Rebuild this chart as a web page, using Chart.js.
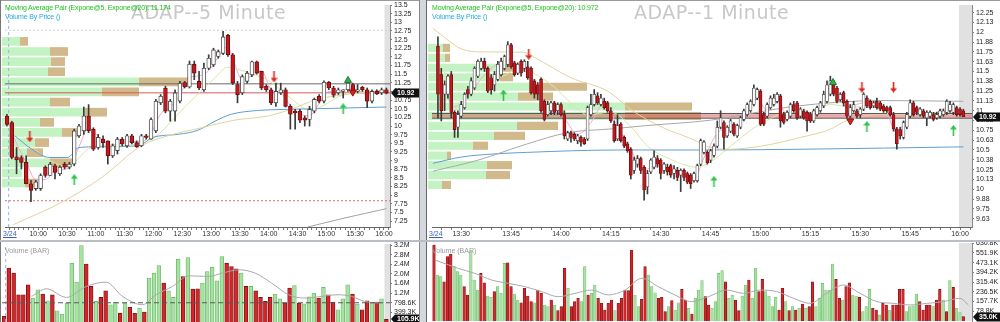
<!DOCTYPE html>
<html><head><meta charset="utf-8">
<script src="https://cdn.jsdelivr.net/npm/chart.js@4.4.1/dist/chart.umd.min.js"></script>
<style>
html,body{margin:0;padding:0;background:#fff;width:1000px;height:322px;overflow:hidden;font-family:"Liberation Sans",Arial,sans-serif}
#root{position:relative;width:1000px;height:322px;background:#fff}
canvas,.t,.d{position:absolute}
.t{white-space:nowrap;z-index:10;line-height:1}
.title{font-family:"DejaVu Sans",sans-serif;font-size:19px;color:#c8c8c8;letter-spacing:0.5px}
.leg1{font-size:7px;color:#22c322;letter-spacing:-0.15px}
.leg2{font-size:7px;color:#27a9e0;letter-spacing:-0.15px}
.vlab{font-size:7px;color:#999}
.date{font-size:7px;color:#3a5fc0;text-decoration:underline}
</style></head>
<body><div id="root">
<div class="d" style="left:0;top:0;width:1000px;height:1px;background:#9a9a9a;z-index:9"></div>
<div class="d" style="left:0;top:0;width:1px;height:322px;background:#777;z-index:9"></div>
<div class="d" style="left:419px;top:0;width:8px;height:322px;background:#d3d7de;z-index:9"></div>
<div class="d" style="left:419px;top:0;width:1px;height:322px;background:#888;z-index:9"></div>
<div class="d" style="left:426px;top:0;width:1px;height:322px;background:#666;z-index:9"></div>
<div class="d" style="left:0;top:240px;width:1000px;height:2px;background:#b9bdc5;z-index:9"></div>

<canvas id="lvbp" width="419" height="240" style="left:0;top:0;z-index:1"></canvas>
<canvas id="lprice" width="419" height="240" style="left:0;top:0;z-index:2"></canvas>
<canvas id="lvol" width="419" height="80" style="left:0;top:242px;z-index:2"></canvas>
<canvas id="rvbp" width="573" height="240" style="left:427px;top:0;z-index:1"></canvas>
<canvas id="rprice" width="573" height="240" style="left:427px;top:0;z-index:2"></canvas>
<canvas id="rvol" width="573" height="80" style="left:427px;top:242px;z-index:2"></canvas>

<div class="t title" style="left:131px;top:3px">ADAP--5 Minute</div>
<div class="t leg1" style="left:5px;top:4px">Moving Average Pair (Expone@5, Expone@20): 11.174</div>
<div class="t leg2" style="left:5px;top:13px">Volume By Price ()</div>
<div class="t date" style="left:3px;top:230px">3/24</div>
<div class="t vlab" style="left:5px;top:247px">Volume (BAR)</div>

<div class="t title" style="left:634px;top:3px">ADAP--1 Minute</div>
<div class="t leg1" style="left:432px;top:4px">Moving Average Pair (Expone@5, Expone@20): 10.972</div>
<div class="t leg2" style="left:432px;top:13px">Volume By Price ()</div>
<div class="t date" style="left:429px;top:230px">3/24</div>
<div class="t vlab" style="left:432px;top:247px">Volume (BAR)</div>
</div>
<script>
// ================= DATA: 5-minute panel (left) =================
const L_OPEN = [10.29,10.10,9.11,9.09,8.95,8.33,8.19,8.19,8.81,8.57, 8.85,8.62,8.90,8.81,8.90,9.72,9.86,10.29,9.91,9.38, 9.62,9.57,9.14,9.29,9.62,9.43,9.72,9.52,9.43,9.72, 9.62,9.86,10.67,11.10,10.43,10.43,10.72,11.26,11.13,11.79, 11.29,11.05,11.67,11.77,12.01,12.10,12.63,12.06,11.20,10.96, 11.29,11.48,11.86,11.58,11.15,11.05,10.67,10.96,11.05,10.57, 10.43,10.43,10.24,10.19,10.43,10.86,10.72,11.27,11.10,10.96, 11.00,11.05,11.20,11.00,11.12,11.05,10.72,11.00,10.96,11.05];
const L_HIGH = [10.34,10.14,9.38,9.14,9.14,8.43,8.43,8.62,8.85,8.95, 8.90,8.85,8.95,8.95,9.91,10.05,10.55,10.62,9.95,9.76, 9.72,9.57,9.48,9.67,9.67,9.76,9.76,9.57,9.76,9.76, 10.24,10.77,10.91,11.15,10.77,11.05,11.29,11.29,11.88,11.88, 11.58,11.82,12.06,12.25,12.20,12.74,12.65,12.10,11.29,11.48, 11.58,11.88,11.88,11.58,11.20,11.10,11.24,11.24,11.10,10.62, 10.48,10.48,10.29,10.57,10.81,10.91,11.31,11.29,11.15,11.10, 11.05,11.34,11.24,11.20,11.15,11.10,11.05,11.05,11.10,11.10];
const L_LOW = [10.00,9.05,8.62,8.76,8.33,7.81,8.14,8.14,8.52,8.57, 8.47,8.57,8.76,8.76,8.85,9.67,9.76,9.81,9.29,9.33, 9.38,8.90,9.09,9.19,9.43,9.38,9.48,9.38,9.40,9.62, 9.62,9.81,10.62,10.38,10.14,10.14,10.67,11.10,11.10,11.34, 11.05,11.00,11.63,11.72,11.96,12.06,12.01,11.20,10.67,10.91, 11.24,11.43,11.50,11.05,11.00,10.62,10.57,10.91,10.55,9.91, 9.91,10.10,10.00,10.00,10.38,10.67,10.67,11.05,10.83,10.91, 10.81,11.00,10.93,10.96,11.00,10.53,10.67,10.91,10.91,10.93];
const L_CLOSE = [10.05,9.09,9.02,8.95,8.33,8.14,8.38,8.57,8.57,8.90, 8.66,8.81,8.81,8.90,9.86,10.00,10.29,9.86,9.33,9.67, 9.52,9.14,9.43,9.62,9.48,9.72,9.52,9.40,9.72,9.67, 10.19,10.72,10.86,10.43,10.72,10.96,11.24,11.13,11.79,11.53, 11.10,11.67,11.96,12.20,12.15,12.58,12.06,11.24,10.91,11.43, 11.53,11.86,11.53,11.10,11.05,10.67,11.00,11.05,10.57,10.34, 10.38,10.17,10.17,10.48,10.77,10.72,11.27,11.10,10.89,11.05, 11.05,11.24,10.96,11.05,11.05,10.72,11.00,10.93,11.05,10.95];
const L_VOL = [233,2234,2027,1130,1130,1544,992,1337,1158,882, 1130,468,330,785,2441,1654,3172,2400,1475,854, 1020,1296,716,826,371,785,606,357,578,412, 1820,2027,2344,1613,1296,1020,2607,1889,2676,1365, 1378,1613,2096,2275,1710,2717,2441,2303,2206,2027, 1475,1475,1296,1020,854,1020,1158,964,785,1406, 1516,785,757,1047,1199,992,1434,1130,826,509, 964,1544,1158,744,509,882,785,826,964,105.9];
const L_VOL_DIR = "rrrrrrggrg"+"rggggggrrg"+"rrggrgrrgr"+"gggrgggrgr"+"rgggggrrrg"+"rgrrrrggrr"+"grgggrgrrg"+"ggrgrrgrgr";
const L_VOL_MA = [[5.7,1061],[8.8,1378],[12.9,1020],[17,1475],[21.1,1654],[24.5,1061],[28.6,716],[31.4,1130],[34.8,1475],[38.2,1917],[42.3,1889],[45.1,2027],[48.5,2165],[51.9,2027],[55.3,1613],[58.8,1130],[62.2,992],[65.6,1061],[69,1130],[71.8,1061],[74.5,854],[77.9,785]];
const L_EMA5 = [[0,10.2],[2,9.5],[4,8.95],[6,8.45],[8,8.45],[10,8.7],[13,8.8],[15,9.4],[17,9.95],[19,9.7],[22,9.45],[25,9.55],[28,9.55],[30,9.8],[32,10.35],[34,10.55],[36,10.9],[38,11.4],[40,11.45],[42,11.6],[44,12.0],[46,12.3],[47,11.95],[49,11.35],[51,11.45],[53,11.6],[55,11.05],[57,10.95],[59,10.6],[61,10.35],[63,10.3],[65,10.65],[67,11.0],[69,10.95],[71,11.1],[73,11.05],[75,10.9],[77,10.95],[79,10.98]];
const L_EMA20 = [[0,10.15],[3,9.75],[6,9.3],[9,9.0],[12,8.85],[14,8.95],[17,9.35],[20,9.45],[24,9.45],[28,9.5],[31,9.7],[34,10.1],[37,10.55],[40,10.95],[43,11.35],[46,11.7],[48,11.65],[51,11.5],[54,11.35],[57,11.05],[60,10.7],[63,10.45],[66,10.6],[69,10.85],[73,10.98],[79,11.0]];
const L_MA_BLUE = [[1.6,9.72],[5.2,9.33],[8.9,9.09],[12.6,9.09],[15,9.38],[19,9.40],[27.4,9.43],[30.3,9.67],[35.7,9.76],[39.8,9.88],[43.3,10.14],[46.7,10.34],[52.2,10.45],[57.7,10.48],[67.3,10.51],[79,10.55]];
const L_MA_TAN = [[1.2,7.14],[11.6,7.81],[19.8,8.52],[28,9.43],[33.6,9.72],[40.5,9.95],[47.4,10.17],[54.3,10.29],[59,10.48],[64.6,10.77],[71.5,10.93],[79,11.05]];
const L_MA_GRAY = [[62.6,7.08],[70,7.33],[79,7.61]];
const L_LEVELS = [12.77, 11.22, 10.96, 7.84];
const L_VBP_PRICE = [12.40,12.11,11.82,11.53,11.24,10.95,10.66,10.37,10.08,9.79,9.50,9.21,8.92,8.63,8.34];
const L_VBP_UP = [180,480,490,460,1370,1000,480,830,380,600,330,250,480,200,230];
const L_VBP_DN = [80,180,140,170,520,370,200,220,140,170,140,160,220,0,130];
const L_UP_ARROWS = [[14,8.45],[70,10.5]];
const L_DN_ARROWS = [[4.75,9.69],[55.6,11.42]];
const L_UP_TRI = [[71,11.32]];
const L_DN_TRI = [[72,10.98]];
const L_PRICE_TICKS = [7.25,7.5,7.75,8,8.25,8.5,8.75,9,9.25,9.5,9.75,10,10.25,10.5,10.75,11,11.25,11.5,11.75,12,12.25,12.5,12.75,13,13.25,13.5];
const L_PRICE_LABELS = ['7.25','7.5','7.75','8','8.25','8.5','8.75','9','9.25','9.5','9.75','10','10.25','10.5','10.75','11','11.25','11.5','11.75','12','12.25','12.5','12.75','13','13.25','13.5'];
const L_TIME_POS = [6.5,12.5,18.5,24.5,30.5,36.5,42.5,48.5,54.5,60.5,66.5,72.5,78.5];
const L_TIME_LABELS = ['10:00','10:30','11:00','11:30','12:00','12:30','13:00','13:30','14:00','14:30','15:00','15:30','16:00'];
const L_VOL_TICKS = [399.3,798.6,1197.9,1597.2,1996.5,2395.8,2795.1,3194.4];
const L_VOL_LABELS = ['399.3K','798.6K','1.2M','1.6M','2.0M','2.4M','2.8M','3.2M'];
const L_VOL_LEVEL = 798.6;
const L_SESSION_START = 0.35;
const L_CLOSE_LABEL = '10.92';
const L_VOL_LABEL = '105.9K';

// ================= DATA: 1-minute panel (right) =================
const R_OPEN = [11.82,11.46,11.21,11.21,11.46,10.98,10.79,10.93,11.04,11.27, 11.21,11.29,11.44,11.54,11.63,11.54,11.42,11.33,11.40,11.46, 11.54,11.59,11.84,11.61,11.48,11.63,11.54,11.56,11.54,11.38, 11.33,11.40,11.12,10.95,11.00,11.10,11.00,11.08,10.95,10.64, 10.72,10.70,10.62,10.66,10.64,10.64,10.95,11.08,11.19,11.08, 11.12,11.10,11.00,10.83,10.64,10.83,10.66,10.58,10.51,10.24, 10.32,10.39,10.28,10.03,10.22,10.28,10.39,10.37,10.24,10.28, 10.30,10.20,10.24,10.18,10.24,10.20,10.18,10.11,10.11,10.32, 10.47,10.47,10.37,10.43,10.55,10.79,10.85,10.68,10.74,10.83, 10.68,10.79,10.89,10.95,11.00,11.08,11.16,11.25,10.95,10.93, 11.04,11.08,11.12,11.19,10.95,10.89,10.93,11.08,11.10,10.93, 11.00,10.98,10.95,10.87,10.95,11.00,11.06,11.12,11.21,11.33, 11.29,11.14,11.23,11.12,10.93,11.00,11.00,10.95,11.02,11.16, 11.12,11.06,11.12,11.10,11.06,11.04,11.04,10.95,10.77,10.76, 10.66,10.79,10.93,11.10,11.04,10.95,11.00,10.91,10.93,10.95, 10.91,10.93,10.95,10.98,11.00,10.98,11.04,11.02,11.00];
const R_HIGH = [11.94,11.54,11.38,11.46,11.50,11.00,11.00,11.12,11.23,11.31, 11.42,11.56,11.65,11.67,11.67,11.56,11.46,11.50,11.63,11.67, 11.71,11.88,11.86,11.63,11.61,11.65,11.65,11.63,11.56,11.40, 11.36,11.42,11.14,11.12,11.12,11.12,11.10,11.10,11.00,10.74, 10.74,10.72,10.70,10.68,10.66,11.06,11.21,11.27,11.23,11.21, 11.16,11.12,11.04,10.87,10.95,10.85,10.68,10.60,10.53,10.41, 10.43,10.41,10.30,10.24,10.39,10.49,10.43,10.39,10.34,10.32, 10.32,10.30,10.28,10.26,10.26,10.22,10.20,10.22,10.32,10.64, 10.62,10.49,10.51,10.58,10.87,11.00,10.87,10.81,10.89,10.85, 10.83,10.93,11.02,11.10,11.14,11.33,11.29,11.27,10.98,11.10, 11.19,11.21,11.23,11.21,10.98,11.00,11.10,11.12,11.12,11.04, 11.02,11.00,10.98,11.02,11.06,11.12,11.25,11.38,11.44,11.38, 11.31,11.23,11.25,11.14,11.08,11.12,11.02,11.04,11.23,11.19, 11.14,11.12,11.16,11.12,11.08,11.06,11.06,10.98,10.79,10.79, 10.87,10.98,11.14,11.12,11.06,11.04,11.02,11.00,11.00,10.98, 10.98,11.02,11.02,11.14,11.12,11.10,11.06,11.04,11.02];
const R_LOW = [10.91,10.87,11.00,11.16,10.91,10.66,10.66,10.91,11.02,11.16, 11.19,11.27,11.42,11.52,11.50,11.23,11.21,11.25,11.38,11.44, 11.52,11.56,11.54,11.44,11.46,11.44,11.50,11.40,11.21,11.16, 11.14,10.98,10.87,10.93,10.95,10.95,10.95,10.93,10.64,10.62, 10.60,10.62,10.58,10.55,10.57,10.62,10.93,11.06,11.08,11.06, 11.02,10.98,10.85,10.60,10.62,10.60,10.53,10.47,10.13,10.20, 10.28,10.20,9.86,9.94,10.20,10.26,10.28,10.13,10.20,10.18, 10.15,10.13,10.11,9.97,10.11,10.07,10.01,10.09,10.09,10.30, 10.45,10.32,10.34,10.41,10.53,10.77,10.51,10.66,10.72,10.68, 10.66,10.77,10.87,10.93,10.98,11.06,11.14,10.81,10.81,10.91, 11.02,11.06,11.10,10.79,10.83,10.87,10.91,10.98,10.89,10.91, 10.89,10.74,10.85,10.85,10.93,10.98,11.04,11.10,11.19,11.19, 11.10,11.12,11.06,10.91,10.91,10.98,10.91,10.91,11.00,11.04, 11.02,11.04,11.02,11.00,10.98,10.98,10.93,10.74,10.51,10.64, 10.64,10.77,10.91,10.93,10.95,10.93,10.91,10.81,10.91,10.87, 10.89,10.91,10.93,10.95,10.98,10.95,10.93,10.93,10.93];
const R_CLOSE = [11.21,11.00,11.33,11.44,10.98,10.76,10.95,11.08,11.21,11.21, 11.38,11.54,11.63,11.63,11.54,11.25,11.27,11.46,11.59,11.63, 11.69,11.84,11.56,11.46,11.59,11.48,11.63,11.42,11.23,11.21, 11.21,11.00,10.89,11.08,11.10,10.98,11.08,10.95,10.68,10.72, 10.66,10.64,10.68,10.60,10.58,11.04,11.08,11.21,11.10,11.16, 11.04,11.00,10.87,10.62,10.81,10.62,10.55,10.49,10.18,10.37, 10.39,10.24,9.99,10.20,10.37,10.41,10.32,10.20,10.32,10.22, 10.18,10.26,10.15,10.24,10.15,10.09,10.07,10.20,10.30,10.62, 10.60,10.34,10.49,10.55,10.79,10.91,10.66,10.79,10.87,10.70, 10.81,10.91,11.00,11.08,11.12,11.29,11.27,10.83,10.83,11.08, 11.16,11.16,11.21,10.87,10.85,10.98,11.08,11.00,10.91,11.02, 10.91,10.87,10.87,11.00,11.04,11.10,11.21,11.33,11.38,11.21, 11.12,11.21,11.10,10.93,11.04,11.08,10.93,11.02,11.21,11.06, 11.04,11.10,11.04,11.02,11.00,11.00,10.95,10.77,10.58,10.68, 10.85,10.95,11.10,10.95,10.98,11.02,10.93,10.98,10.98,10.89, 10.95,11.00,11.00,11.12,11.08,11.08,10.95,10.95,10.92];
const R_VOL = [616,372,359,318,521,543,440,400,372,278, 211,562,332,251,386,310,202,192,238,278, 224,467,472,278,219,170,148,265,202,157, 148,251,224,130,116,170,130,84,116,427, 265,116,157,184,157,440,211,224,292,184, 143,89,143,170,84,143,184,246,246,575, 211,116,175,440,372,278,229,184,192,76, 116,165,89,148,256,170,103,57,184,251, 327,197,130,103,157,386,408,318,184,211, 170,84,202,292,332,184,427,238,337,238, 202,116,192,89,265,157,84,116,89,103, 138,103,116,318,116,184,305,251,251,462, 337,184,170,278,310,211,202,192,76,116, 256,103,89,49,143,130,89,130,130,256, 256,76,116,122,219,157,89,130,130,116, 170,256,170,76,327,272,103,68,35];
const R_VOL_DIR = "rggrrrgggr"+"rgggrrggrg"+"ggrrggrrrr"+"grrggrgrrr"+"grrrggrggr"+"rrrrgrrrrr"+"ggrrgggrrr"+"grggrrgrgg"+"grrggggrgg"+"rrggrggrrg"+"gggrrgrgrg"+"rgrrgggggg"+"rrgrrggrgg"+"grrgrrgrrr"+"rggggrrrrg"+"rrgrgrggr";
const R_VOL_MA = [[0.3,494],[7.3,426],[12.2,386],[17.2,332],[22.2,305],[27.2,278],[32.1,238],[37.1,197],[42.1,224],[47.1,251],[52,211],[57,251],[62,346],[67,278],[71.9,211],[76.9,157],[81.9,197],[87.4,251],[92.4,224],[97.3,251],[102.3,238],[107.3,184],[112.3,143],[117.2,224],[122.2,292],[127.2,224],[132.2,157],[137.1,143],[142.1,130],[147.1,143],[152.1,157],[157,184],[159.5,130]];
const R_EMA5 = [[0,11.5],[5,11.05],[10,11.25],[15,11.5],[21,11.65],[25,11.55],[30,11.3],[33,11.05],[38,10.9],[42,10.7],[46,10.85],[50,11.1],[54,10.8],[58,10.5],[62,10.25],[66,10.3],[72,10.22],[77,10.13],[80,10.4],[85,10.75],[90,10.8],[96,11.15],[99,11.0],[102,11.12],[105,10.95],[110,10.95],[114,11.0],[118,11.3],[123,11.05],[128,11.1],[134,11.05],[138,10.72],[142,10.95],[148,10.96],[154,11.05],[158,10.98]];
const R_EMA20 = [[0,11.6],[5,11.35],[10,11.3],[20,11.45],[25,11.55],[30,11.45],[35,11.3],[40,11.1],[45,10.95],[52,10.98],[58,10.8],[63,10.55],[70,10.38],[78,10.28],[82,10.35],[88,10.55],[95,10.78],[100,10.9],[105,10.98],[112,10.98],[118,11.08],[124,11.05],[130,11.05],[138,10.95],[143,10.95],[150,10.98],[158,11.0]];
const R_MA_BLUE = [[-1.5,10.33],[7,10.41],[17,10.45],[27,10.47],[54,10.50],[80,10.50],[110,10.51],[158,10.54]];
const R_MA_TAN = [[-1.5,12.05],[3,11.9],[6.9,11.79],[12.4,11.75],[25.7,11.745],[29,11.68],[40,11.42],[51,11.25],[58.5,11.0],[67.4,10.79],[77.4,10.62],[80.4,10.55],[87.3,10.51],[97.3,10.55],[109,10.66],[117.8,10.76],[122.7,10.87],[132.7,10.95],[157.5,10.95]];
const R_MA_GRAY = [[-1.5,10.23],[12,10.37],[27,10.58],[39,10.72],[52.5,10.77],[62.5,10.81],[82,10.88],[96,10.98],[108,11.06],[133,11.13],[158,11.12]];
const R_LEVELS = [10.965, 10.945, 10.92, 10.905];
const R_VBP_PRICE = [11.78,11.655,11.53,11.41,11.29,11.165,11.04,10.92,10.795,10.67,10.545,10.42,10.30,10.175,10.05];
const R_VBP_UP = [150,170,720,720,1140,900,1970,1970,890,660,450,190,590,580,140];
const R_VBP_DN = [70,50,130,130,450,350,670,760,410,310,150,40,250,240,90];
const R_UP_ARROWS = [[19.7,11.2],[83,10.1],[129,10.8],[155,10.75]];
const R_DN_ARROWS = [[27.3,11.72],[127.5,11.3],[137,11.3]];
const R_UP_TRI = [[118.8,11.36]];
const R_DN_TRI = [[124,10.87]];
const R_PRICE_TICKS = [9.625,9.75,9.875,10,10.125,10.25,10.375,10.5,10.625,10.75,10.875,11,11.125,11.25,11.375,11.5,11.625,11.75,11.875,12,12.125,12.25];
const R_PRICE_LABELS = ['9.63','9.75','9.88','10','10.13','10.25','10.38','10.5','10.63','10.75','10.88','11','11.13','11.25','11.38','11.5','11.63','11.75','11.88','12','12.13','12.25'];
const R_TIME_POS = [7,22,37,52,67,82,97,112,127,142,157];
const R_TIME_LABELS = ['13:30','13:45','14:00','14:15','14:30','14:45','15:00','15:15','15:30','15:45','16:00'];
const R_VOL_TICKS = [78.8,157.7,236.5,315.4,394.2,473.1,551.9,630.8];
const R_VOL_LABELS = ['78.8K','157.7K','236.5K','315.4K','394.2K','473.1K','551.9K','630.8K'];
const R_CLOSE_LABEL = '10.92';
const R_VOL_LABEL = '35.0K';

// ================= rendering =================
Chart.defaults.font.family = "'Liberation Sans', Arial, sans-serif";
Chart.defaults.font.size = 7;
Chart.defaults.color = '#222';
Chart.defaults.animation = false;
Chart.defaults.plugins.legend.display = false;
Chart.defaults.plugins.tooltip.enabled = false;

const fixY = w => s => { s.width = w; s.paddingTop = 0; s.paddingBottom = 0; };
const fixX = h => s => { s.height = h; s.paddingLeft = 0; s.paddingRight = 0; };
const pts = arr => arr.map(p => ({x: p[0], y: p[1]}));

const bandPlugin = {
  id: 'band',
  beforeDatasetsDraw(chart, args, o) {
    if (o == null || o.from == null) return;
    const {ctx, chartArea: a} = chart;
    const x0 = chart.scales.x.getPixelForValue(o.from);
    ctx.save(); ctx.fillStyle = '#e1e1e1';
    ctx.fillRect(x0, a.top, a.right - x0, a.bottom - a.top);
    ctx.restore();
  }
};
const boxPlugin = {
  id: 'lastBox',
  afterDraw(chart, args, o) {
    if (o == null || o.value == null) return;
    const {ctx, chartArea: a, width} = chart;
    const y = Math.round(chart.scales.y.getPixelForValue(o.value));
    const x0 = a.right + 1;
    ctx.save();
    ctx.fillStyle = '#111';
    ctx.beginPath(); ctx.moveTo(x0, y); ctx.lineTo(x0 + 4, y - 4.5); ctx.lineTo(x0 + 4, y + 4.5); ctx.closePath(); ctx.fill();
    ctx.fillRect(x0 + 4, y - 4.5, width - x0 - 4, 9);
    ctx.fillStyle = '#fff'; ctx.font = "bold 7px 'Liberation Sans', Arial"; ctx.textBaseline = 'middle';
    ctx.fillText(o.text, x0 + 6, y + 0.5);
    ctx.restore();
  }
};

function arrowImg(color, up) {
  const c = document.createElement('canvas'); c.width = 7; c.height = 11;
  const g = c.getContext('2d'); g.fillStyle = color; g.strokeStyle = color; g.lineWidth = 1.6;
  if (up) {
    g.beginPath(); g.moveTo(3.5, 0); g.lineTo(7, 4.5); g.lineTo(0, 4.5); g.closePath(); g.fill();
    g.beginPath(); g.moveTo(3.5, 4); g.lineTo(3.5, 11); g.stroke();
  } else {
    g.beginPath(); g.moveTo(3.5, 11); g.lineTo(7, 6.5); g.lineTo(0, 6.5); g.closePath(); g.fill();
    g.beginPath(); g.moveTo(3.5, 0); g.lineTo(3.5, 7); g.stroke();
  }
  return c;
}
const UP_IMG = arrowImg('#2fc24a', true);
const DN_IMG = arrowImg('#d8261f', false);

function lineDs(data, color, order, extra) {
  return Object.assign({type: 'line', order, data: pts(data), borderColor: color, borderWidth: 1, pointRadius: 0,
    cubicInterpolationMode: 'monotone', fill: false}, extra || {});
}
function hLine(v, xmin, xmax, color, dash, order) {
  return {type: 'line', order, data: [{x: xmin, y: v}, {x: xmax, y: v}], borderColor: color, borderWidth: 1,
    borderDash: dash || [], pointRadius: 0, fill: false};
}

function priceChart(id, c) {
  const n = c.O.length;
  const up = i => c.C[i] >= c.O[i];
  const xt = [];
  for (let v = c.minorStart; v <= c.xmax + 1e-9; v += c.minorStep) xt.push(+v.toFixed(4));
  const labelFor = v => { const k = c.tPos.findIndex(p => Math.abs(p - v) < 1e-3); return k >= 0 ? c.tLab[k] : ''; };
  const ds = [];
  ds.push({type: 'bar', order: 3, grouped: false, barThickness: 1, minBarLength: 1,
    data: c.O.map((o, i) => ({x: i, y: [c.L[i], c.H[i]]})), backgroundColor: '#3a3a3a', borderWidth: 0});
  ds.push({type: 'bar', order: 2, grouped: false, barThickness: c.bodyW, minBarLength: 1, borderSkipped: false,
    data: c.O.map((o, i) => ({x: i, y: [Math.min(o, c.C[i]), Math.max(o, c.C[i])]})),
    backgroundColor: c.O.map((o, i) => up(i) ? '#ffffff' : '#c4171d'),
    borderColor: c.O.map((o, i) => up(i) ? '#474747' : '#6a0c0c'), borderWidth: c.bodyB});
  c.lines.forEach(l => ds.push(lineDs(l.d, l.color, 5, {borderWidth: l.w || 1})));
  c.levels.forEach((v, k) => ds.push(hLine(v, c.xmin, c.xmax, c.levelStyle[k][0], c.levelStyle[k][1], 6)));
  if (c.session != null) ds.push({type: 'line', order: 6, data: [{x: c.session, y: c.ymin}, {x: c.session, y: c.ymax}],
    borderColor: '#8db7e3', borderWidth: 1, borderDash: [3, 3], pointRadius: 0});
  ds.push({type: 'line', order: 0, showLine: false, data: pts(c.upA), pointStyle: UP_IMG, pointRadius: 3});
  ds.push({type: 'line', order: 0, showLine: false, data: pts(c.dnA), pointStyle: DN_IMG, pointRadius: 3});
  ds.push({type: 'line', order: 0, showLine: false, data: pts(c.upT), pointStyle: 'triangle', pointRadius: 4,
    pointBackgroundColor: '#2fb44a', pointBorderColor: '#1b7a2e', pointBorderWidth: 1});
  ds.push({type: 'line', order: 0, showLine: false, data: pts(c.dnT), pointStyle: 'triangle', pointRotation: 180, pointRadius: 4,
    pointBackgroundColor: '#d8261f', pointBorderColor: '#8a1010', pointBorderWidth: 1});
  return new Chart(document.getElementById(id), {
    type: 'bar',
    data: {datasets: ds},
    plugins: [bandPlugin, boxPlugin],
    options: {
      responsive: false, animation: false, events: [],
      layout: {padding: {left: c.padL, top: 3, right: 0, bottom: 0}},
      plugins: {band: {from: c.bandFrom}, lastBox: {value: c.C[n - 1], text: c.closeLabel}},
      scales: {
        x: {type: 'linear', min: c.xmin, max: c.xmax, offset: false, afterFit: fixX(13),
          afterBuildTicks: s => { s.ticks = xt.map(v => ({value: v})); },
          ticks: {autoSkip: false, maxRotation: 0, minRotation: 0, padding: 0, color: '#333', font: {size: 7}, callback: v => labelFor(v)},
          grid: {drawOnChartArea: false, drawTicks: true, tickLength: 3, color: '#777', offset: false},
          border: {display: true, color: '#666'}},
        y: {type: 'linear', position: 'right', min: c.ymin, max: c.ymax, afterFit: fixY(c.yW),
          afterBuildTicks: s => { s.ticks = c.yT.map(v => ({value: v})); },
          ticks: {autoSkip: false, padding: 2, color: '#222', font: {size: 7}, callback: (v, i) => c.yL[i]},
          grid: {drawOnChartArea: false, drawTicks: true, tickLength: 2, color: '#777'},
          border: {display: true, color: '#888'}}
      }
    }
  });
}

function vbpChart(id, c) {
  return new Chart(document.getElementById(id), {
    type: 'bar',
    data: {datasets: [
      {grouped: false, barPercentage: 0.86, categoryPercentage: 1, borderWidth: 0, backgroundColor: '#c3f3c3',
        data: c.P.map((p, k) => ({y: p, x: c.U[k]}))},
      {grouped: false, barPercentage: 0.86, categoryPercentage: 1, borderWidth: 0, backgroundColor: '#d2b98b',
        data: c.P.map((p, k) => ({y: p, x: [c.U[k], c.U[k] + c.D[k]]}))}
    ]},
    options: {
      indexAxis: 'y', responsive: false, animation: false, events: [],
      layout: {padding: c.pad},
      scales: {
        x: {type: 'linear', display: false, min: 0, max: c.xmax, offset: false},
        y: {type: 'linear', display: false, min: c.ymin, max: c.ymax, offset: false}
      }
    }
  });
}

function volChart(id, c) {
  const ds = [];
  ds.push({type: 'bar', order: 3, grouped: false, barThickness: c.thick, borderWidth: c.bw,
    data: c.V.map((v, i) => ({x: i, y: v})),
    backgroundColor: c.V.map((v, i) => c.dir[i] === 'r' ? '#d3252a' : '#a8e2a3'),
    borderColor: c.V.map((v, i) => c.dir[i] === 'r' ? '#7a0e0e' : '#6dbb6a')});
  ds.push(lineDs(c.ma, '#a9a9a9', 1, {borderWidth: 1}));
  if (c.level != null) ds.push(hLine(c.level, c.xmin, c.xmax, '#5a5a5a', [5, 3], 0));
  if (c.session != null) ds.push({type: 'line', order: 0, data: [{x: c.session, y: 0}, {x: c.session, y: c.ymax}],
    borderColor: '#8db7e3', borderWidth: 1, borderDash: [3, 3], pointRadius: 0});
  return new Chart(document.getElementById(id), {
    type: 'bar',
    data: {datasets: ds},
    plugins: [bandPlugin, boxPlugin],
    options: {
      responsive: false, animation: false, events: [],
      layout: {padding: c.pad},
      plugins: {band: {from: c.bandFrom}, lastBox: {value: c.V[c.V.length - 1], text: c.boxText}},
      scales: {
        x: {type: 'linear', display: false, min: c.xmin, max: c.xmax, offset: false},
        y: {type: 'linear', position: 'right', min: 0, max: c.ymax, afterFit: fixY(c.yW),
          afterBuildTicks: s => { s.ticks = c.yT.map(v => ({value: v})); },
          ticks: {autoSkip: false, padding: 2, color: '#222', font: {size: 7}, callback: (v, i) => c.yL[i]},
          grid: {drawOnChartArea: false, drawTicks: true, tickLength: 2, color: '#777'},
          border: {display: true, color: '#888'}}
      }
    }
  });
}

// ---- left (5 minute) ----
const LX = {min: -0.41, max: 79.75};
const LY = {min: 7.08, max: 13.5};
vbpChart('lvbp', {P: L_VBP_PRICE, U: L_VBP_UP, D: L_VBP_DN, xmax: 3880, ymin: LY.min, ymax: LY.max,
  pad: {left: 2, top: 3, right: 29, bottom: 13}});
priceChart('lprice', {
  O: L_OPEN, H: L_HIGH, L: L_LOW, C: L_CLOSE, xmin: LX.min, xmax: LX.max, ymin: LY.min, ymax: LY.max,
  yT: L_PRICE_TICKS, yL: L_PRICE_LABELS, tPos: L_TIME_POS, tLab: L_TIME_LABELS, minorStart: 0.5, minorStep: 1,
  bandFrom: 78.6, bodyW: 3.8, bodyB: 0.9, padL: 2, yW: 29, session: L_SESSION_START, closeLabel: L_CLOSE_LABEL,
  lines: [{d: L_MA_GRAY, color: '#a3a3a3'}, {d: L_MA_TAN, color: '#e3d39a'}, {d: L_MA_BLUE, color: '#5d9fd6'},
    {d: L_EMA20, color: '#d9e6a6'}, {d: L_EMA5, color: '#f2a9d3'}],
  levels: L_LEVELS, levelStyle: [['#cfcfcf', [2, 2]], ['#6a6a6a', []], ['#d45a5a', []], ['#e07070', [2, 2]]],
  upA: L_UP_ARROWS, dnA: L_DN_ARROWS, upT: L_UP_TRI, dnT: L_DN_TRI
});
volChart('lvol', {V: L_VOL, dir: L_VOL_DIR, ma: L_VOL_MA, xmin: LX.min, xmax: LX.max, ymax: 3236,
  yT: L_VOL_TICKS, yL: L_VOL_LABELS, yW: 29, pad: {left: 2, top: 2, right: 0, bottom: 0},
  thick: 3.8, bw: 0.8, level: L_VOL_LEVEL, session: L_SESSION_START, bandFrom: 78.6, boxText: L_VOL_LABEL});

// ---- right (1 minute) ----
const RX = {min: -1.79, max: 160.6};
const RY = {min: 9.519, max: 12.347};
vbpChart('rvbp', {P: R_VBP_PRICE, U: R_VBP_UP, D: R_VBP_DN, xmax: 5440, ymin: RY.min, ymax: RY.max,
  pad: {left: 1, top: 3, right: 28, bottom: 13}});
priceChart('rprice', {
  O: R_OPEN, H: R_HIGH, L: R_LOW, C: R_CLOSE, xmin: RX.min, xmax: RX.max, ymin: RY.min, ymax: RY.max,
  yT: R_PRICE_TICKS, yL: R_PRICE_LABELS, tPos: R_TIME_POS, tLab: R_TIME_LABELS, minorStart: 1, minorStep: 3,
  bandFrom: 156.7, bodyW: 3, bodyB: 0.75, padL: 1, yW: 28, session: null, closeLabel: R_CLOSE_LABEL,
  lines: [{d: R_MA_GRAY, color: '#a8a8a8'}, {d: R_MA_TAN, color: '#e3d39a'}, {d: R_MA_BLUE, color: '#5d9fd6'},
    {d: R_EMA20, color: '#d9e6a6'}, {d: R_EMA5, color: '#f2a9d3'}],
  levels: R_LEVELS, levelStyle: [['#555555', []], ['#d45a5a', []], ['#d45a5a', []], ['#555555', []]],
  upA: R_UP_ARROWS, dnA: R_DN_ARROWS, upT: R_UP_TRI, dnT: R_DN_TRI
});
volChart('rvol', {V: R_VOL, dir: R_VOL_DIR, ma: R_VOL_MA, xmin: RX.min, xmax: RX.max, ymax: 632,
  yT: R_VOL_TICKS, yL: R_VOL_LABELS, yW: 28, pad: {left: 1, top: 1, right: 0, bottom: 1},
  thick: 2.6, bw: 0.6, level: null, session: null, bandFrom: 156.7, boxText: R_VOL_LABEL});
</script>
</body></html>
